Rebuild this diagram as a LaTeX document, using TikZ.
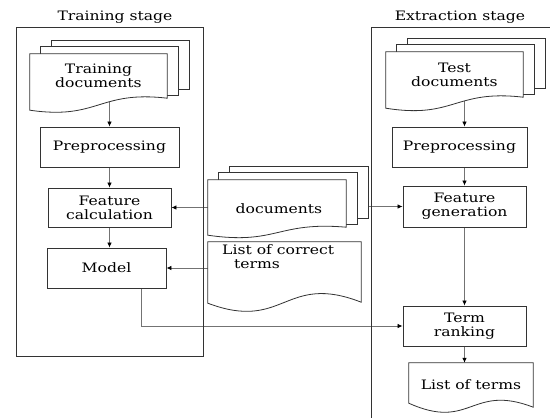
\documentclass[tikz,border=0pt]{standalone}
\usepackage{fontspec}
\setmainfont[FakeStretch=1.2]{DejaVu Serif}
\usetikzlibrary{calc,arrows.meta}
\pgfdeclarelayer{links}
\pgfdeclarelayer{pages}
\pgfsetlayers{links,pages,main}

\tikzset{
  stage/.style={line width=0.9pt, draw=black!80},
  box/.style={draw=black!80, line width=0.9pt, fill=white, align=center, inner sep=0pt},
  page/.style={draw=black!80, line width=0.8pt, fill=white},
  doc/.style={inner sep=0pt, align=center},
  link/.style={draw=black!55, line width=0.8pt, -{Latex[length=5pt,width=4.5pt,color=black]}},
}

% лист с волнистым низом: имя, сдвиг левого конца, две управляющие точки
\newcommand{\docpage}[4]{%
  \begin{pgfonlayer}{pages}
    \draw[page] (#1.north west) -- (#1.north east) -- (#1.south east)
      .. controls ($(#1.south)+(0,#3)$) and ($(#1.south)+(0,#4)$) .. ($(#1.south west)+(0,#2)$) -- cycle;
  \end{pgfonlayer}}
% две копии за листом
\newcommand{\docstack}[1]{%
  \begin{pgfonlayer}{pages}
    \draw[page] ($(#1.north west)+(22pt,13pt)$) rectangle ($(#1.south east)+(22pt,9pt)$);
    \draw[page] ($(#1.north west)+(11pt,7pt)$) rectangle ($(#1.south east)+(11pt,3pt)$);
  \end{pgfonlayer}}

\begin{document}
\begin{tikzpicture}[x=1pt,y=-1pt,font=\fontsize{13}{14}\selectfont]
    \useasboundingbox (0,0) rectangle (550,418);
    % Две стадии.
    \draw[stage] (16,27) rectangle (203,356);
    \draw[stage] (550,27) -- (371,27) -- (371,418);
    \node (trainlbl) at (115,17) {Training stage};
    \node (extrlbl) at (460,17) {Extraction stage};

    % Обучение.
    \node[doc, minimum width=137pt, minimum height=44pt] (traindocs) at (98.5,76) {Training\\documents};
    \docstack{traindocs}
    \docpage{traindocs}{-12pt}{8pt}{-22pt}
    \node[box, minimum width=139pt, minimum height=40pt] (prepL) at (109.5,147) {Preprocessing};
    \node[box, minimum width=123pt, minimum height=39pt] (feat) at (109.5,207.5) {Feature\\calculation};
    \node[box, minimum width=119pt, minimum height=40pt] (model) at (106.5,268) {Model};

    % Общие входы.
    \node[doc, minimum width=138pt, minimum height=47pt] (docs) at (277,203.5) {};
    \docstack{docs}
    \docpage{docs}{-8pt}{6pt}{-18pt}
    \node (docstext) at (279,209) {documents};
    \node[doc, minimum width=153pt, minimum height=60pt] (correct) at (284.5,272) {};
    \docpage{correct}{-1pt}{30pt}{-30pt}
    \node[anchor=north west, align=left, inner sep=0pt] (correcttext) at (222,244) {List of correct\\\hspace*{12pt}terms};

    % Извлечение.
    \node[doc, minimum width=137pt, minimum height=45pt] (testdocs) at (454.5,74.5) {Test\\documents};
    \docstack{testdocs}
    \docpage{testdocs}{-11pt}{8pt}{-22pt}
    \node[box, minimum width=135pt, minimum height=40pt] (prepR) at (459.5,147) {Preprocessing};
    \node[box, minimum width=123pt, minimum height=41pt] (gen) at (464.5,206.5) {Feature\\generation};
    \node[box, minimum width=123pt, minimum height=40pt] (rank) at (464.5,326) {Term\\ranking};
    \node[doc, minimum width=124pt, minimum height=44pt] (terms) at (471,385) {List of terms};
    \docpage{terms}{4pt}{24pt}{-24pt}

    % Связи.
    \begin{pgfonlayer}{links}
        \draw[link] (traindocs.south -| prepL.north) -- (prepL.north);
        \draw[link] (prepL) -- (feat);
        \draw[link] (feat.south) -- (feat.south |- model.north);
        \draw[link] (feat.east -| docs.west) -- (feat.east);
        \draw[link] (gen.west -| docs.east) -- (gen.west);
        \draw[link] (model.east -| correct.west) -- (model.east);
        \draw[link] ($(model.south east)+(-25pt,0)$) |- (rank.west);
        \draw[link] (testdocs.south -| gen.north) -- (prepR.north -| gen.north);
        \draw[link] (prepR.south -| gen.north) -- (gen.north);
        \draw[link] (gen) -- (rank);
        \draw[link] (rank.south) -- (rank.south |- terms.north);
    \end{pgfonlayer}
\end{tikzpicture}
\end{document}
